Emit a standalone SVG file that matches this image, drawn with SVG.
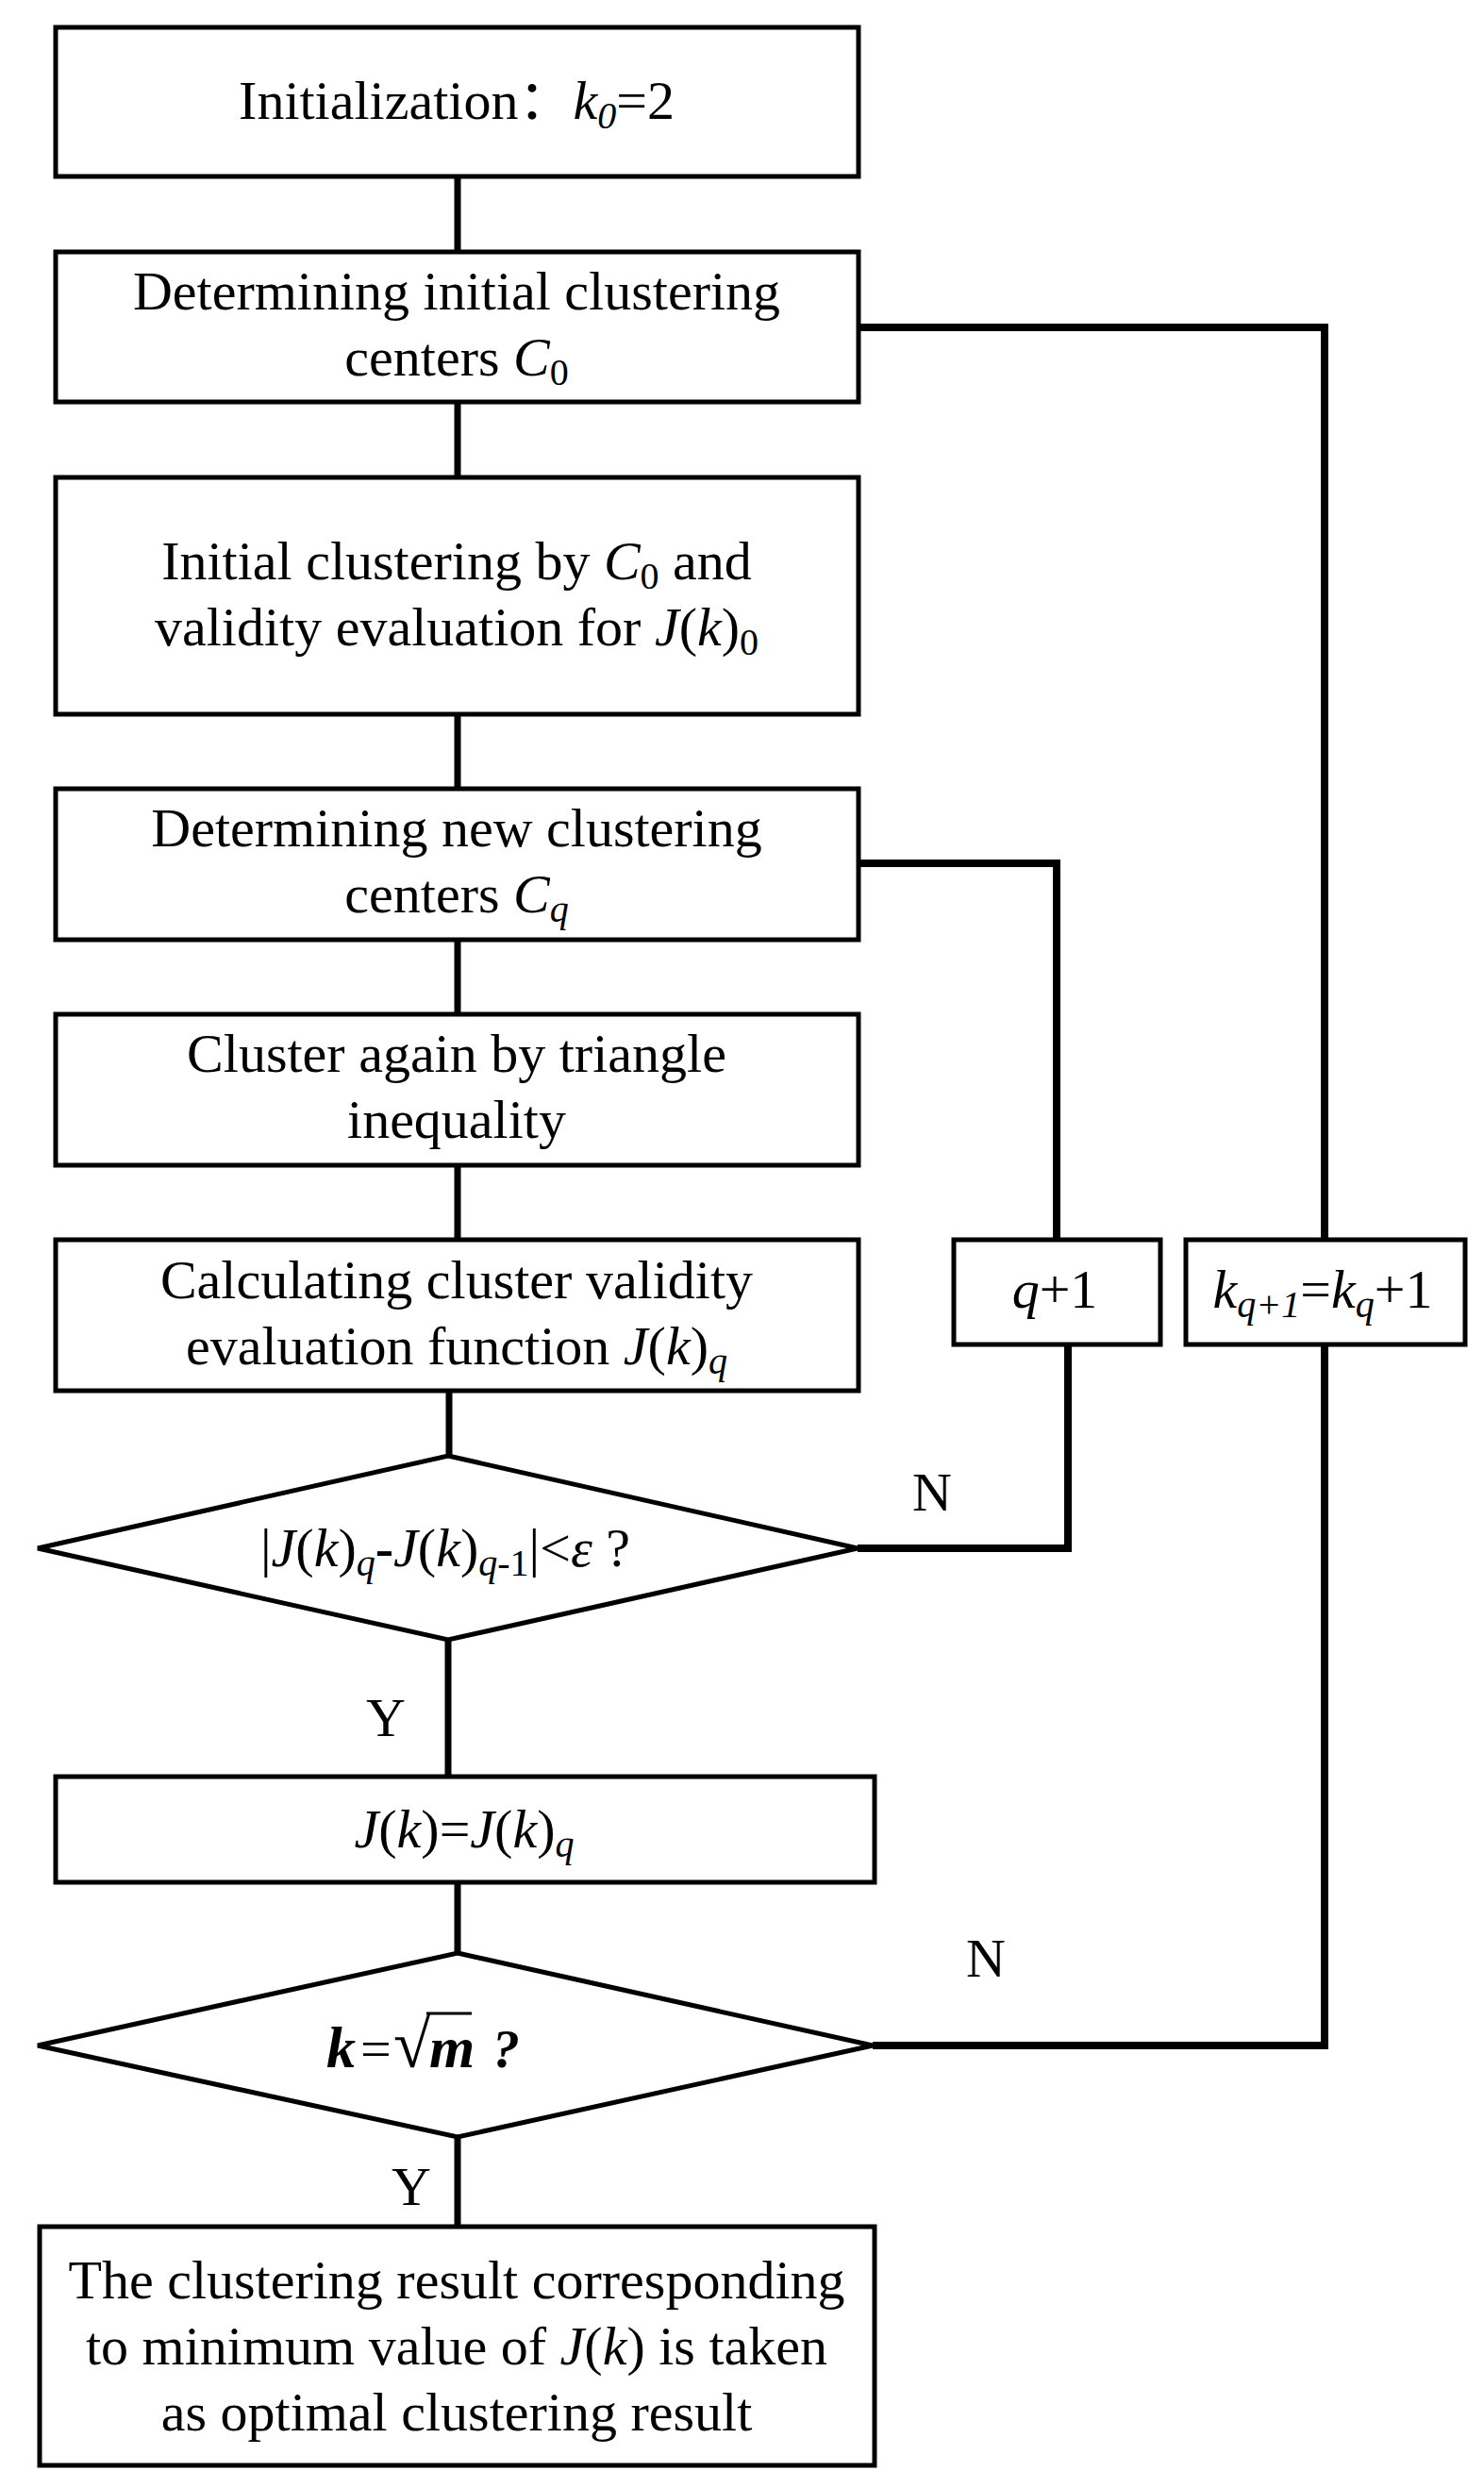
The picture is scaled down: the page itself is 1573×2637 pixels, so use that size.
<svg xmlns="http://www.w3.org/2000/svg" width="1573" height="2637" viewBox="0 0 1573 2637">
<style>
.box{fill:#fff;stroke:#000;stroke-width:5}
.c{fill:none;stroke:#000;stroke-width:7}
.fb{fill:none;stroke:#000;stroke-width:8;stroke-linejoin:miter}
text{font-family:"Liberation Serif","Times New Roman","Noto Sans CJK SC",serif;font-size:58px;fill:#000}
.t{text-anchor:middle}
.i{font-style:italic}
.bi{font-style:italic;font-weight:bold}
.s{font-size:40px}
</style>
<rect width="1573" height="2637" fill="#fff"/>
<g id="connectors">
<path class="c" d="M485 187V267M485 426V506M485 757V836M485 996V1075M485 1235V1314M476 1474V1543M475 1738V1883M485 1995V2070M485 2265V2360"/>
<path class="fb" d="M910 347H1404V1314"/>
<path class="fb" d="M1404 1425V2168H925"/>
<path class="fb" d="M910 915H1120V1314"/>
<path class="fb" d="M1132 1425V1641H909"/>
<text x="988" y="1601" class="t">N</text>
<text x="1045" y="2095" class="t">N</text>
<text x="409" y="1840" class="t">Y</text>
<text x="436" y="2337" class="t">Y</text>
</g>
<g id="n1">
<rect class="box" x="59" y="29" width="851" height="158"/>
<text x="484" y="126" class="t">Initialization：<tspan class="i">k</tspan><tspan class="i s" dy="10">0</tspan><tspan dy="-10">=2</tspan></text>
</g>
<g id="n2">
<rect class="box" x="59" y="267" width="851" height="159"/>
<text x="484" y="328" class="t">Determining initial clustering</text>
<text x="484" y="398" class="t">centers <tspan class="i">C</tspan><tspan class="s" dy="10">0</tspan></text>
</g>
<g id="n3">
<rect class="box" x="59" y="506" width="851" height="251"/>
<text x="484" y="614" class="t">Initial clustering by <tspan class="i">C</tspan><tspan class="s" dy="10">0</tspan><tspan dy="-10"> and</tspan></text>
<text x="484" y="684" class="t">validity evaluation for <tspan class="i">J</tspan>(<tspan class="i">k</tspan>)<tspan class="s" dy="10">0</tspan></text>
</g>
<g id="n4">
<rect class="box" x="59" y="836" width="851" height="160"/>
<text x="484" y="897" class="t">Determining new clustering</text>
<text x="484" y="967" class="t">centers <tspan class="i">C</tspan><tspan class="i s" dy="10">q</tspan></text>
</g>
<g id="n5">
<rect class="box" x="59" y="1075" width="851" height="160"/>
<text x="484" y="1136" class="t">Cluster again by triangle</text>
<text x="484" y="1206" class="t">inequality</text>
</g>
<g id="n6">
<rect class="box" x="59" y="1314" width="851" height="160"/>
<text x="484" y="1376" class="t">Calculating cluster validity</text>
<text x="484" y="1446" class="t">evaluation function <tspan class="i">J</tspan>(<tspan class="i">k</tspan>)<tspan class="i s" dy="10">q</tspan></text>
</g>
<g id="n7">
<rect class="box" x="1011" y="1314" width="219" height="111"/>
<text x="1118" y="1386" class="t"><tspan class="i">q</tspan>+1</text>
</g>
<g id="n8">
<rect class="box" x="1257" y="1314" width="296" height="111"/>
<text x="1402" y="1386" class="t"><tspan class="i">k</tspan><tspan class="i s" dy="10">q+1</tspan><tspan dy="-10">=</tspan><tspan class="i">k</tspan><tspan class="i s" dy="10">q</tspan><tspan dy="-10">+1</tspan></text>
</g>
<g id="n9">
<polygon class="box" points="475,1543 909,1641 475,1738 40,1641"/>
<text x="472" y="1660" class="t">|<tspan class="i">J</tspan>(<tspan class="i">k</tspan>)<tspan class="i s" dy="10">q</tspan><tspan dy="-10" font-weight="bold">-</tspan><tspan class="i">J</tspan>(<tspan class="i">k</tspan>)<tspan class="i s" dy="10">q</tspan><tspan class="s">-1</tspan><tspan dy="-10">|&lt;</tspan><tspan class="i">ε</tspan> ?</text>
</g>
<g id="n10">
<rect class="box" x="59" y="1883" width="868" height="112"/>
<text x="492" y="1958" class="t"><tspan class="i">J</tspan>(<tspan class="i">k</tspan>)=<tspan class="i">J</tspan>(<tspan class="i">k</tspan>)<tspan class="i s" dy="10">q</tspan></text>
</g>
<g id="n11">
<polygon class="box" points="485,2070 925,2168 485,2265 40,2168"/>
<text y="2191"><tspan x="346" class="bi" font-size="62">k</tspan><tspan x="382">=</tspan><tspan x="417" font-size="72">√</tspan><tspan x="455" class="bi" font-size="62">m</tspan><tspan x="522" class="bi">?</tspan></text>
<line x1="452" y1="2134" x2="500" y2="2134" stroke="#000" stroke-width="3"/>
</g>
<g id="n12">
<rect class="box" x="42" y="2360" width="885" height="253"/>
<text x="484" y="2436" class="t">The clustering result corresponding</text>
<text x="484" y="2506" class="t">to minimum value of <tspan class="i">J</tspan>(<tspan class="i">k</tspan>) is taken</text>
<text x="484" y="2576" class="t">as optimal clustering result</text>
</g>
</svg>
